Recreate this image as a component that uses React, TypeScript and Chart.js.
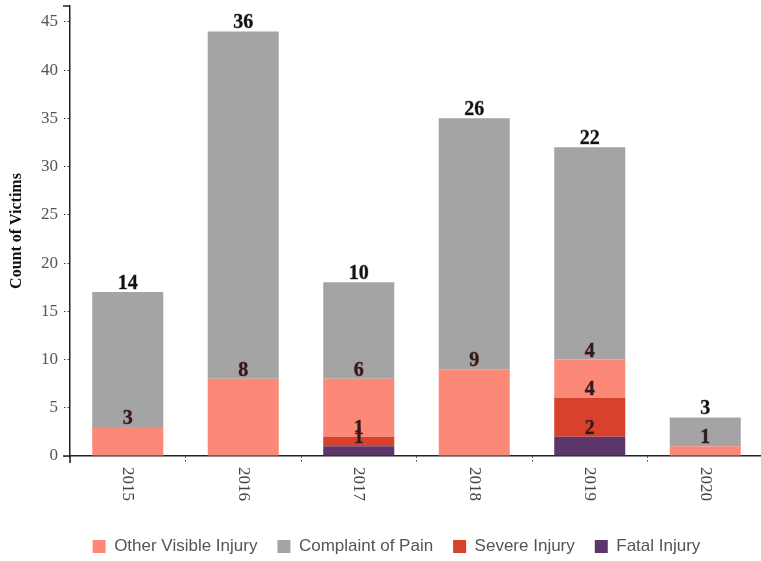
import React, { useEffect, useRef } from 'react';
import { Chart, registerables } from 'chart.js';

Chart.register(...registerables);

// ---- data ----
const years = ['2015', '2016', '2017', '2018', '2019', '2020'];
const fatalInjury = [0, 0, 1, 0, 2, 0];
const severeInjury = [0, 0, 1, 0, 4, 0];
const otherVisibleInjury = [3, 8, 6, 9, 4, 1];
const complaintOfPain = [14, 36, 10, 26, 22, 3];
const yTickValues = [0, 5, 10, 15, 20, 25, 30, 35, 40, 45];
const yMax = 46.64;
const legendOrder = ['Other Visible Injury', 'Complaint of Pain', 'Severe Injury', 'Fatal Injury'];

const COLORS = {
  other: '#fc8877',
  pain: '#a4a4a4',
  severe: '#d8412c',
  fatal: '#5c356a',
};

const SERIF = '"Liberation Serif", "Times New Roman", serif';
const SANS = '"Liberation Sans", Arial, sans-serif';

const W = 770;
const H = 565;

const customPlugin = {
  id: 'customDraw',
  afterLayout(chart: any) {
    const lg = chart.legend;
    if (lg) {
      lg.left += 15;
      lg.right += 15;
    }
  },
  afterDatasetsDraw(chart: any) {
    const ctx = chart.ctx;
    ctx.save();
    ctx.font = `bold 20px ${SERIF}`;
    ctx.textAlign = 'center';
    ctx.textBaseline = 'alphabetic';
    chart.data.datasets.forEach((ds: any, di: number) => {
      const meta = chart.getDatasetMeta(di);
      const isTop = ds.label === 'Complaint of Pain';
      meta.data.forEach((el: any, i: number) => {
        const v = ds.data[i];
        if (!v) return;
        if (!isTop) {
          ctx.lineWidth = 1;
          ctx.strokeStyle = 'rgba(140,40,40,0.55)';
          ctx.strokeText(String(v), el.x, el.y - 3);
          ctx.fillStyle = '#2a1c1c';
        } else {
          ctx.lineWidth = 0.8;
          ctx.strokeStyle = 'rgba(90,90,90,0.5)';
          ctx.strokeText(String(v), el.x, el.y - 3);
          ctx.fillStyle = '#111';
        }
        ctx.fillText(String(v), el.x, el.y - 3);
      });
    });
    ctx.restore();
  },
  afterDraw(chart: any) {
    const ctx = chart.ctx;
    const { left, right, top, bottom } = chart.chartArea;
    const xScale = chart.scales.x;
    ctx.save();
    // rotated x labels (clockwise)
    ctx.font = `17px ${SERIF}`;
    ctx.fillStyle = '#444';
    ctx.textAlign = 'left';
    ctx.textBaseline = 'middle';
    chart.data.labels.forEach((lab: string, i: number) => {
      const x = xScale.getPixelForValue(i);
      ctx.save();
      ctx.translate(x, bottom + 11);
      ctx.rotate(Math.PI / 2);
      ctx.fillText(lab, 0, 0);
      ctx.restore();
    });
    // outer ticks
    ctx.strokeStyle = '#222';
    ctx.lineWidth = 1.5;
    ctx.beginPath();
    ctx.moveTo(left - 7, top);
    ctx.lineTo(left, top);
    ctx.moveTo(left - 7, bottom);
    ctx.lineTo(left, bottom);
    ctx.moveTo(left, bottom);
    ctx.lineTo(left, bottom + 7);
    ctx.moveTo(right, bottom);
    ctx.lineTo(right, bottom + 7);
    ctx.stroke();
    ctx.restore();
  },
};

export default function App() {
  const ref = useRef<HTMLCanvasElement | null>(null);

  useEffect(() => {
    document.body.style.overflow = 'hidden';
    if (!ref.current) return;
    const chart = new Chart(ref.current, {
      type: 'bar',
      data: {
        labels: years,
        datasets: [
          { label: 'Fatal Injury', data: fatalInjury, backgroundColor: COLORS.fatal },
          { label: 'Severe Injury', data: severeInjury, backgroundColor: COLORS.severe },
          { label: 'Other Visible Injury', data: otherVisibleInjury, backgroundColor: COLORS.other },
          { label: 'Complaint of Pain', data: complaintOfPain, backgroundColor: COLORS.pain },
        ].map((d) => ({ ...d, borderWidth: 0, barPercentage: 0.615, categoryPercentage: 1 })),
      },
      options: {
        responsive: false,
        animation: false,
        events: [],
        layout: { padding: { top: 6, right: 7, bottom: 0, left: 0 } },
        plugins: {
          tooltip: { enabled: false },
          legend: {
            position: 'bottom',
            labels: {
              boxWidth: 13,
              boxHeight: 13,
              padding: 20,
              color: '#555',
              font: { family: SANS, size: 17 },
              sort: (a: any, b: any) => legendOrder.indexOf(a.text) - legendOrder.indexOf(b.text),
            },
          },
        },
        scales: {
          x: {
            stacked: true,
            offset: true,
            ticks: { display: false },
            grid: {
              offset: true,
              drawOnChartArea: false,
              drawTicks: true,
              tickLength: 6,
              tickBorderDash: [1.5, 2],
              tickColor: '#444',
            },
            border: { display: true, color: '#222', width: 1.5 },
            afterFit: (s: any) => {
              s.height = 62;
              s.paddingLeft = 0;
              s.paddingRight = 0;
            },
          },
          y: {
            stacked: true,
            min: 0,
            max: yMax,
            afterBuildTicks: (s: any) => {
              s.ticks = yTickValues.map((v) => ({ value: v }));
            },
            afterFit: (s: any) => {
              s.width = 70;
              s.paddingTop = 0;
              s.paddingBottom = 0;
            },
            ticks: {
              padding: 6,
              color: '#555',
              font: { family: SERIF, size: 17 },
            },
            grid: {
              drawOnChartArea: false,
              drawTicks: true,
              tickLength: 6,
              tickBorderDash: [1.5, 2],
              tickColor: '#444',
            },
            border: { display: true, color: '#222', width: 1.5 },
            title: {
              display: true,
              text: 'Count of Victims',
              color: '#111',
              font: { family: SERIF, size: 16, weight: 'bold' },
              padding: { top: 7, bottom: 0 },
            },
          },
        },
      },
      plugins: [customPlugin],
    } as any);
    return () => chart.destroy();
  }, []);

  return (
    <div style={{ position: 'absolute', left: 0, top: 0, width: W, height: H }}>
      <canvas ref={ref} width={W} height={H} style={{ width: W, height: H, display: 'block' }} />
    </div>
  );
}
